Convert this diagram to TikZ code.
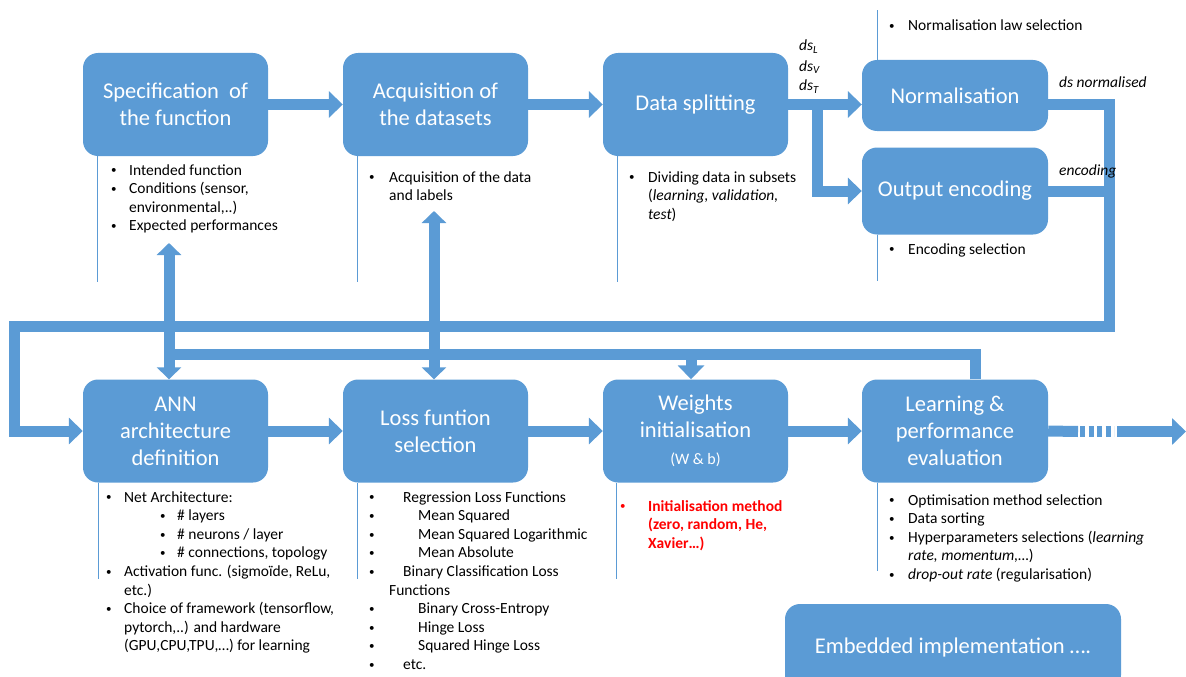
\documentclass[tikz,border=0pt]{standalone}
\usepackage{fontspec}
\setmainfont{Carlito}
\usetikzlibrary{arrows.meta}
\definecolor{blu}{HTML}{5B9BD5}
\definecolor{redt}{HTML}{FF0000}
\newcommand{\mybul}{\raisebox{1.2pt}{\fontsize{11}{11}\selectfont\mdseries\textbullet}}
\newcommand{\myb}[2]{\hbox{\makebox[#1][l]{\mybul}#2}}
\newcommand{\myc}[2]{\hbox{\hspace*{#1}#2}}
\newcommand{\mylist}[1]{\vtop{\baselineskip=18.6pt\lineskiplimit=-30pt\lineskip=0pt #1}}
\begin{document}
\begin{tikzpicture}[x=1pt,y=-1pt,
  box/.style={fill=blu, draw=none, rounded corners=15pt, text=white, font=\fontsize{22.5}{27}\selectfont, align=center, inner sep=0pt},
  bigline/.style={draw=blu, line width=11pt},
  bigarrow/.style={bigline, -{Triangle[width=26pt,length=14pt]}},
  dblarrow/.style={bigline, {Triangle[width=24pt,length=12pt]}-{Triangle[width=24pt,length=12pt]}},
  thinline/.style={draw=blu, line width=1.1pt},
  desc/.style={anchor=base west, inner sep=0pt, font=\fontsize{15.5}{18.6}\selectfont, text=black},
  lab/.style={anchor=base west, inner sep=0pt, font=\fontsize{15.5}{18.6}\selectfont\itshape, text=black}]
\useasboundingbox (0,0) rectangle (1186,677);
\clip (0,0) rectangle (1186,677);

% boxes
\node[box, minimum width=185pt, minimum height=103pt] (spec) at (175.5,104.5) {Specification\ \ of\\the function};
\node[box, minimum width=185pt, minimum height=103pt] (acq) at (435.5,104.5) {Acquisition of\\the datasets};
\node[box, minimum width=185pt, minimum height=103pt] (split) at (695.5,104.5) {Data splitting};
\node[box, minimum width=186pt, minimum height=71pt] (norm) at (955,95.5) {Normalisation};
\node[box, minimum width=186pt, minimum height=87pt] (enc) at (955,191) {Output encoding};
\node[box, minimum width=185pt, minimum height=103pt] (ann) at (175.5,431) {ANN\\architecture\\definition};
\node[box, minimum width=185pt, minimum height=103pt] (loss) at (435.5,431) {Loss funtion\\selection};
\node[box, minimum width=185pt, minimum height=103pt] (wts) at (695.5,431) {Weights\\initialisation\\{\fontsize{16}{18}\selectfont (W \& b)}};
\node[box, minimum width=186pt, minimum height=103pt] (learn) at (955,431) {Learning \&\\performance\\evaluation};
\node[box, minimum width=336pt, minimum height=86pt] (emb) at (953,647) {Embedded implementation ….};

% thin lines
\draw[thinline] (spec.south west) ++(15,0) -- ++(0,126);
\draw[thinline] (acq.south west) ++(15,0) -- ++(0,126);
\draw[thinline] (split.south west) ++(15,0) -- ++(0,126);
\draw[thinline] (norm.north west) ++(16,0) -- ++(0,-50);
\draw[thinline] (enc.south west) ++(16,0) -- ++(0,46);
\draw[thinline] (ann.south west) ++(16,0) -- ++(0,96);
\draw[thinline] (loss.south west) ++(15,0) -- ++(0,96);
\draw[thinline] (wts.south west) ++(14,0) -- ++(0,96);
\draw[thinline] (learn.south west) ++(16,0) -- ++(0,88);

% top row connectors
\draw[bigarrow] (spec) -- (acq);
\draw[bigarrow] (acq) -- (split);
\draw[bigarrow] (split.east) -- (norm.west |- split.east);
\coordinate (br) at (817,104.5);
\draw[bigarrow] (br) |- (enc.west);

% big loop
\coordinate (c1) at (1109,326);
\coordinate (c2) at (14,326);
\draw[bigarrow] (norm.east |- split.east) -| (c1) -- (c2) |- (ann.west);
\draw[bigline] (enc.east) -- (enc.east -| c1);

% feedback bus
\coordinate (fbR) at (975,354);
\coordinate (fbL) at (169,354);
\draw[bigline] (learn.north -| fbR) -- (fbR) -- (fbL);
\coordinate (wtin) at (691,354);
\draw[bigarrow] (wtin) -- (wts.north -| wtin);

% vertical double arrows
\coordinate (specup) at (169,243);
\draw[dblarrow] (specup) -- (ann.north -| specup);
\coordinate (acqup) at (434,211);
\draw[dblarrow] (acqup) -- (loss.north -| acqup);

% bottom row connectors
\draw[bigarrow] (ann) -- (loss);
\draw[bigarrow] (loss) -- (wts);
\draw[bigarrow] (wts) -- (learn);
\coordinate (o1) at (1078,431.5);
\coordinate (o2) at (1080,431.5);
\coordinate (o3) at (1114,431.5);
\coordinate (o4) at (1117,431.5);
\coordinate (o5) at (1186,431.5);
\draw[bigline] (learn.east) -- (o1);
\draw[bigline, dash pattern=on 5pt off 3.5pt] (o2) -- (o3);
\draw[bigarrow] (o4) -- (o5);

% labels
\node[lab] (dsl) at (799,51) {ds\textsubscript{L}};
\node[lab] (dsv) at (799,71) {ds\textsubscript{V}};
\node[lab] (dst) at (799,91) {ds\textsubscript{T}};
\node[lab] (dsn) at (1059,88) {ds normalised};
\node[lab] (encl) at (1059,175) {encoding};

% descriptions
\node[desc] (specd) at (111,175) {\mylist{\myb{18pt}{Intended function}\myb{18pt}{Conditions (sensor,}\myc{18pt}{environmental,..)}\myb{18pt}{Expected performances}}};
\node[desc] (acqd) at (369,182) {\mylist{\myb{20pt}{Acquisition of the data}\myc{20pt}{and labels}}};
\node[desc] (splitd) at (629,182) {\mylist{\myb{19pt}{Dividing data in subsets}\myc{19pt}{(\textit{learning, validation,}}\myc{19pt}{\textit{test})}}};
\node[desc] (normd) at (889,31) {\mylist{\myb{19pt}{Normalisation law selection}}};
\node[desc] (encd) at (889,254) {\mylist{\myb{19pt}{Encoding selection}}};
\node[desc] (annd) at (106,502) {\mylist{%
  \myb{18pt}{Net Architecture:}%
  \myc{54pt}{\makebox[17pt][l]{\mybul}\# layers}%
  \myc{54pt}{\makebox[17pt][l]{\mybul}\# neurons / layer}%
  \myc{54pt}{\makebox[17pt][l]{\mybul}\# connections, topology}%
  \myb{18pt}{Activation func. (sigmoïde, ReLu,}%
  \myc{18pt}{etc.)}%
  \myb{18pt}{Choice of framework (tensorflow,}%
  \myc{18pt}{pytorch,..) and hardware}%
  \myc{18pt}{(GPU,CPU,TPU,…) for learning}}};
\node[desc] (lossd) at (369,502) {\mylist{%
  \myb{34pt}{Regression Loss Functions}%
  \myb{49pt}{Mean Squared}%
  \myb{49pt}{Mean Squared Logarithmic}%
  \myb{49pt}{Mean Absolute}%
  \myb{34pt}{Binary Classification Loss}%
  \myc{20pt}{Functions}%
  \myb{49pt}{Binary Cross-Entropy}%
  \myb{49pt}{Hinge Loss}%
  \myb{49pt}{Squared Hinge Loss}%
  \myb{34pt}{etc.}}};
\node[desc, text=redt, font=\fontsize{15.5}{18.6}\selectfont\bfseries] (wtsd) at (620,511) {\mylist{\myb{28pt}{Initialisation method}\myc{28pt}{(zero, random, He,}\myc{28pt}{Xavier…)}}};
\node[desc] (learnd) at (889,505) {\mylist{%
  \myb{19pt}{Optimisation method selection}%
  \myb{19pt}{Data sorting}%
  \myb{19pt}{Hyperparameters selections (\textit{learning}}%
  \myc{19pt}{\textit{rate, momentum,…})}%
  \myb{19pt}{\textit{drop-out rate} (regularisation)}}};
\end{tikzpicture}
\end{document}
